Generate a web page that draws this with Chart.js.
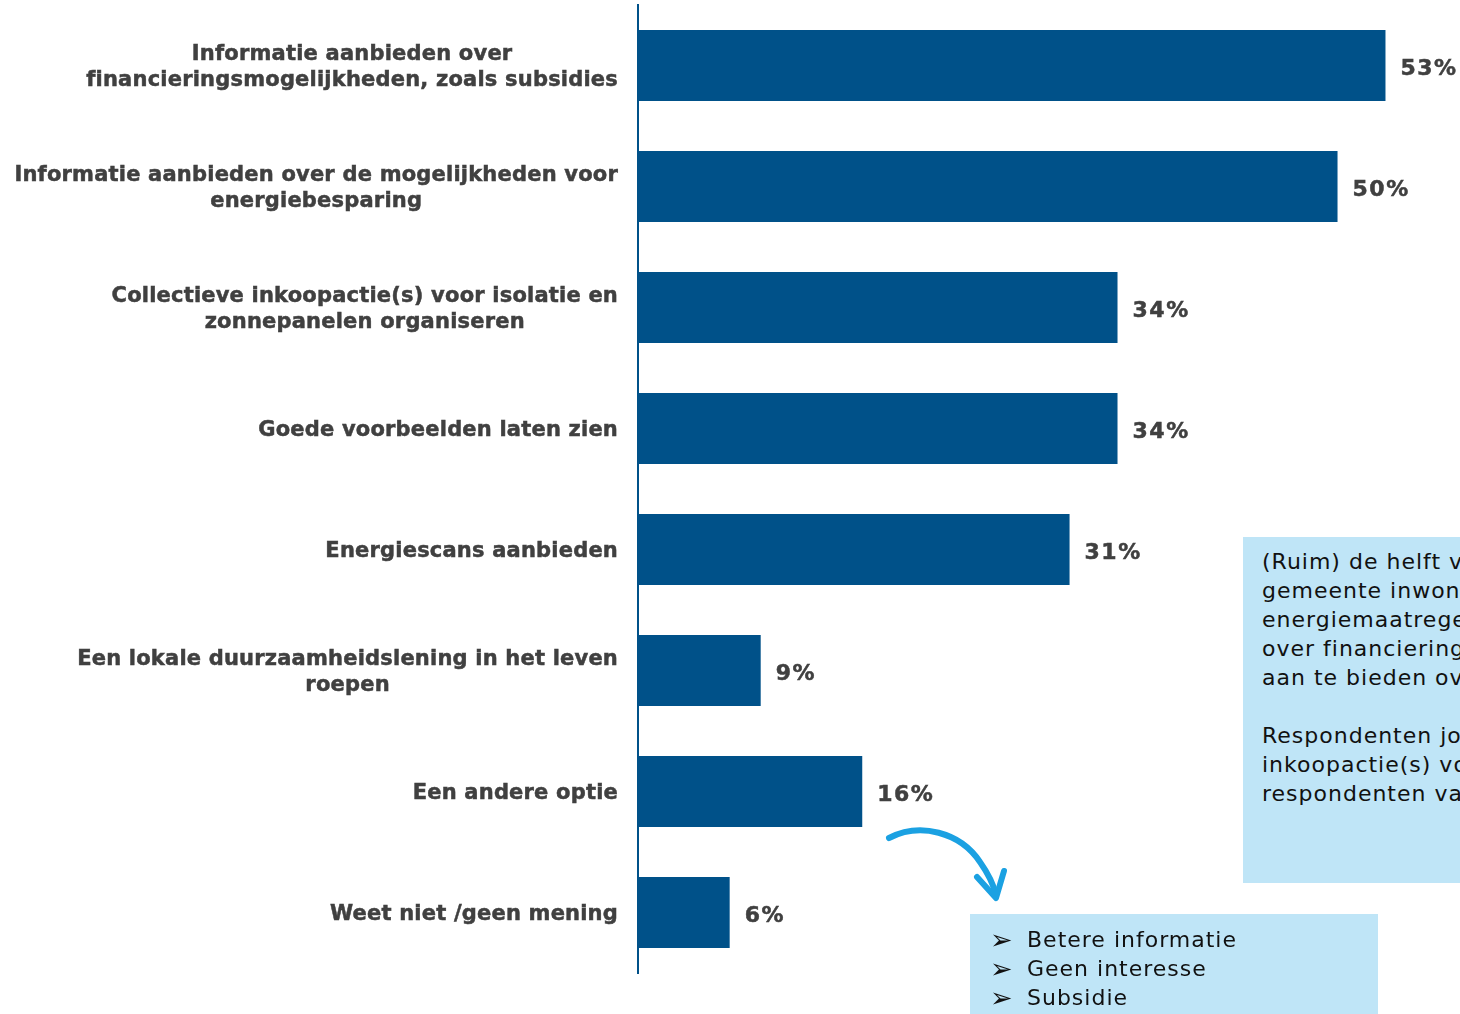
<!DOCTYPE html>
<html>
<head>
<meta charset="utf-8">
<script src="https://cdn.jsdelivr.net/npm/chart.js@4.4.1/dist/chart.umd.min.js"></script>
<style>
  html, body { margin:0; padding:0; width:1460px; height:1014px; overflow:hidden; background:#fff; }
  #wrap { position:relative; width:1460px; height:1014px; }
  canvas { position:absolute; left:0; top:0; }
  .box { position:absolute; background:#BFE5F7; font-family:"DejaVu Sans", Verdana, sans-serif; color:#111; font-size:22px; line-height:29px; letter-spacing:1px; white-space:nowrap; overflow:hidden; }
  #note { left:1243px; top:537px; width:400px; height:346px; padding:10px 0 0 19px; box-sizing:border-box; }
  #list { left:970px; top:914px; width:408px; height:110px; padding:11px 0 0 20px; box-sizing:border-box; }
  #list .b { display:inline-block; width:37px; font-size:27px; line-height:29px; letter-spacing:0; vertical-align:top; }
  #arrow { position:absolute; left:0; top:0; }
</style>
</head>
<body>
<div id="wrap">
  <canvas id="c" width="1460" height="1014"></canvas>
  <svg id="arrow" width="1460" height="1014">
    <path d="M889,838 C920,822 960,832 980,862 C987,872 993,882 996,895" fill="none" stroke="#1BA1E2" stroke-width="6" stroke-linecap="round"/>
    <path d="M977,877 L996,898 L1004,871" fill="none" stroke="#1BA1E2" stroke-width="6" stroke-linecap="round" stroke-linejoin="round"/>
  </svg>
  <div class="box" id="note">
    <div>(Ruim) de helft van de</div>
    <div>gemeente inwoners</div>
    <div>energiemaatregelen</div>
    <div>over financieringsmogelijkheden</div>
    <div>aan te bieden over</div>
    <div>&nbsp;</div>
    <div>Respondenten jonger</div>
    <div>inkoopactie(s) voor</div>
    <div>respondenten van</div>
  </div>
  <div class="box" id="list">
    <div><span class="b">➢</span>Betere informatie</div>
    <div><span class="b">➢</span>Geen interesse</div>
    <div><span class="b">➢</span>Subsidie</div>
  </div>
</div>
<script>
const categories = [
  ["Informatie aanbieden over", "financieringsmogelijkheden, zoals subsidies"],
  ["Informatie aanbieden over de mogelijkheden voor", "energiebesparing"],
  ["Collectieve inkoopactie(s) voor isolatie en", "zonnepanelen organiseren"],
  ["Goede voorbeelden laten zien"],
  ["Energiescans aanbieden"],
  ["Een lokale duurzaamheidslening in het leven", "roepen"],
  ["Een andere optie"],
  ["Weet niet /geen mening"]
];
const values = [53.0, 49.6, 34.0, 34.0, 30.6, 8.7, 15.9, 6.5];
const valueLabels = ["53%", "50%", "34%", "34%", "31%", "9%", "16%", "6%"];

const BAR = "#005189";
const TXT = "#404040";

const labelPlugin = {
  id: "labels",
  afterDraw(chart) {
    const ctx = chart.ctx;
    const y = chart.scales.y;
    const meta = chart.getDatasetMeta(0);
    ctx.save();
    ctx.fillStyle = TXT;
    ctx.strokeStyle = TXT;
    ctx.lineWidth = 0.5;
    ctx.textBaseline = "middle";
    const lh = 26;
    categories.forEach((lines, i) => {
      ctx.font = "bold 21px 'DejaVu Sans', Verdana, sans-serif";
      ctx.letterSpacing = "0.2px";
      const cy = y.getPixelForTick(i) + 2;
      const widest = Math.max(...lines.map(l => ctx.measureText(l).width));
      const cx = chart.chartArea.left - 20 - widest / 2;
      ctx.textAlign = "center";
      const y0 = cy - (lines.length - 1) * lh / 2;
      lines.forEach((l, k) => { ctx.fillText(l, cx, y0 + k * lh); ctx.strokeText(l, cx, y0 + k * lh); });
      const bar = meta.data[i];
      ctx.font = "bold 22px 'DejaVu Sans', Verdana, sans-serif";
      ctx.letterSpacing = "1.5px";
      ctx.textAlign = "left";
      ctx.fillText(valueLabels[i], bar.x + 15, bar.y + 4);
      ctx.strokeText(valueLabels[i], bar.x + 15, bar.y + 4);
    });
    ctx.restore();
  }
};

new Chart(document.getElementById("c"), {
  type: "bar",
  data: {
    labels: categories.map(c => c.join(" ")),
    datasets: [{ data: values, backgroundColor: BAR, borderWidth: 0, barPercentage: 0.587, categoryPercentage: 1 }]
  },
  options: {
    indexAxis: "y",
    responsive: false,
    animation: false,
    layout: { padding: { top: 5, bottom: 41, right: 4, left: 0 } },
    plugins: { legend: { display: false }, tooltip: { enabled: false } },
    scales: {
      x: { display: false, min: 0, max: 58 },
      y: {
        grid: { display: false },
        ticks: { display: false },
        border: { display: true, color: BAR, width: 2 },
        afterFit: (s) => { s.width = 638; }
      }
    }
  },
  plugins: [labelPlugin]
});
</script>
</body>
</html>
